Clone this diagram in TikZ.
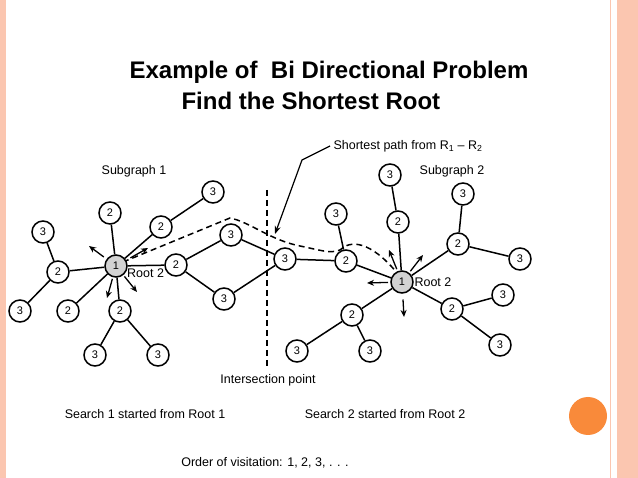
\documentclass[tikz,border=0pt]{standalone}
\usepackage{fontspec}
\setmainfont{Liberation Sans}
\usetikzlibrary{arrows.meta,calc}
\definecolor{dot}{HTML}{F98A3A}
\definecolor{side}{HTML}{FBC6B0}
\begin{document}
\begin{tikzpicture}[x=1pt,y=-1pt,
 nd/.style={circle,draw,line width=1.5pt,fill=white,minimum size=22pt,inner sep=0pt,font=\fontsize{11}{12}\selectfont},
 rt/.style={nd,fill=gray!35},
 ed/.style={line width=1.5pt},
 ar/.style={line width=1.3pt,-{Stealth[length=7pt,width=6pt]}},
 dsh/.style={line width=1.5pt,dash pattern=on 6pt off 4pt},
 lb/.style={font=\fontsize{12.5}{14}\selectfont}]
\useasboundingbox (0,0) rectangle (638,478);
\fill[white] (0,0) rectangle (638,478);
\fill[side] (0,0) rectangle (6,478);
\fill[side] (617,0) rectangle (638,478);
\draw[side,line width=1pt] (610,0) -- (610,478);
\fill[dot] (588,416) circle (19);
\node[font=\bfseries\fontsize{24}{28}\selectfont] (t1) at (329,72) {Example of\ \ Bi Directional Problem};
\node[font=\bfseries\fontsize{24}{28}\selectfont,anchor=west] (t2) at (178,101) {Find the Shortest Root};
% dashed path
\draw[dsh] (123,262) -- (230,218) .. controls (250,222) and (270,240) .. (300,246) .. controls (320,250) and (330,254) .. (340,250) .. controls (350,240) and (370,240) .. (398,274);
\coordinate (v1) at (267,190); \coordinate (v2) at (267,366);
\draw[dsh] (v1) -- (v2);
% left graph
\node[rt] (r1) at (116,266) {1};
\node[nd] (a1) at (110,213) {2};
\node[nd] (a2) at (161,227) {2};
\node[nd] (a3) at (213,192) {3};
\node[nd] (a4) at (58,272) {2};
\node[nd] (a5) at (43,232) {3};
\node[nd] (a6) at (20,311) {3};
\node[nd] (a7) at (68,311) {2};
\node[nd] (a8) at (120,311) {2};
\node[nd] (a9) at (95,355) {3};
\node[nd] (a10) at (158,355) {3};
\node[nd] (m2) at (176,265) {2};
\node[nd] (m3a) at (231,235) {3};
\node[nd] (m3b) at (224,299) {3};
\node[nd] (i3) at (285,259) {3};
% right graph
\node[rt] (r2) at (402,282) {1};
\node[nd] (b1) at (346,261) {2};
\node[nd] (b2) at (336,214) {3};
\node[nd] (b3) at (398,222) {2};
\node[nd] (b4) at (390,175) {3};
\node[nd] (b5) at (458,244) {2};
\node[nd] (b6) at (463,194) {3};
\node[nd] (b7) at (520,259) {3};
\node[nd] (b8) at (452,309) {2};
\node[nd] (b9) at (503,295) {3};
\node[nd] (b10) at (500,345) {3};
\node[nd] (b11) at (352,315) {2};
\node[nd] (b12) at (297,351) {3};
\node[nd] (b13) at (370,351) {3};
\draw[ed] (r1)--(a1) (r1)--(a2) (a2)--(a3) (r1)--(a4) (a4)--(a5) (a4)--(a6) (r1)--(a7) (r1)--(a8) (a8)--(a9) (a8)--(a10)
 (r1)--(m2) (m2)--(m3a) (m2)--(m3b) (m3a)--(i3) (m3b)--(i3) (i3)--(b1) (b1)--(b2) (b1)--(r2)
 (r2)--(b3) (b3)--(b4) (r2)--(b5) (b5)--(b6) (b5)--(b7) (r2)--(b8) (b8)--(b9) (b8)--(b10) (r2)--(b11) (b11)--(b12) (b11)--(b13);
% arrows from roots
\coordinate (p1) at (89,246); \coordinate (p2) at (148,248); \coordinate (p3) at (107,298); \coordinate (p4) at (137,292);
\draw[ar] ($(r1)!0.45!(p1)$) -- (p1); \draw[ar] ($(r1)!0.45!(p2)$) -- (p2);
\draw[ar] ($(r1)!0.4!(p3)$) -- (p3); \draw[ar] ($(r1)!0.4!(p4)$) -- (p4);
\coordinate (q1) at (389,250); \coordinate (q2) at (423,255); \coordinate (q3) at (367,283); \coordinate (q4) at (404,317);
\draw[ar] ($(r2)!0.4!(q1)$) -- (q1); \draw[ar] ($(r2)!0.4!(q2)$) -- (q2);
\draw[ar] ($(r2)!0.4!(q3)$) -- (q3); \draw[ar] ($(r2)!0.5!(q4)$) -- (q4);
% labels
\node[lb] (s1) at (134,171) {Subgraph 1};
\node[lb] (s2) at (452,171) {Subgraph 2};
\node[lb,anchor=west,inner sep=1pt] (rl) at (126,273) {Root 2};
\node[lb,anchor=west] (rr) at (411,282) {Root 2};
\node[lb,anchor=west] (sp) at (330,146) {Shortest path from R\textsubscript{1} -- R\textsubscript{2}};
\coordinate (k1) at (302,160); \coordinate (k2) at (275,234);
\draw[line width=1.2pt,-{Stealth[length=8pt,width=6pt]}] (sp.west) -- (k1) -- (k2);
\node[lb] (ip) at (268,380) {Intersection point};
\node[lb] (ss1) at (145,414) {Search 1 started from Root 1};
\node[lb] (ss2) at (385,414) {Search 2 started from Root 2};
\node[lb] (ov) at (265,463) {Order of visitation: 1, 2, 3, . . .};
\end{tikzpicture}
\end{document}
